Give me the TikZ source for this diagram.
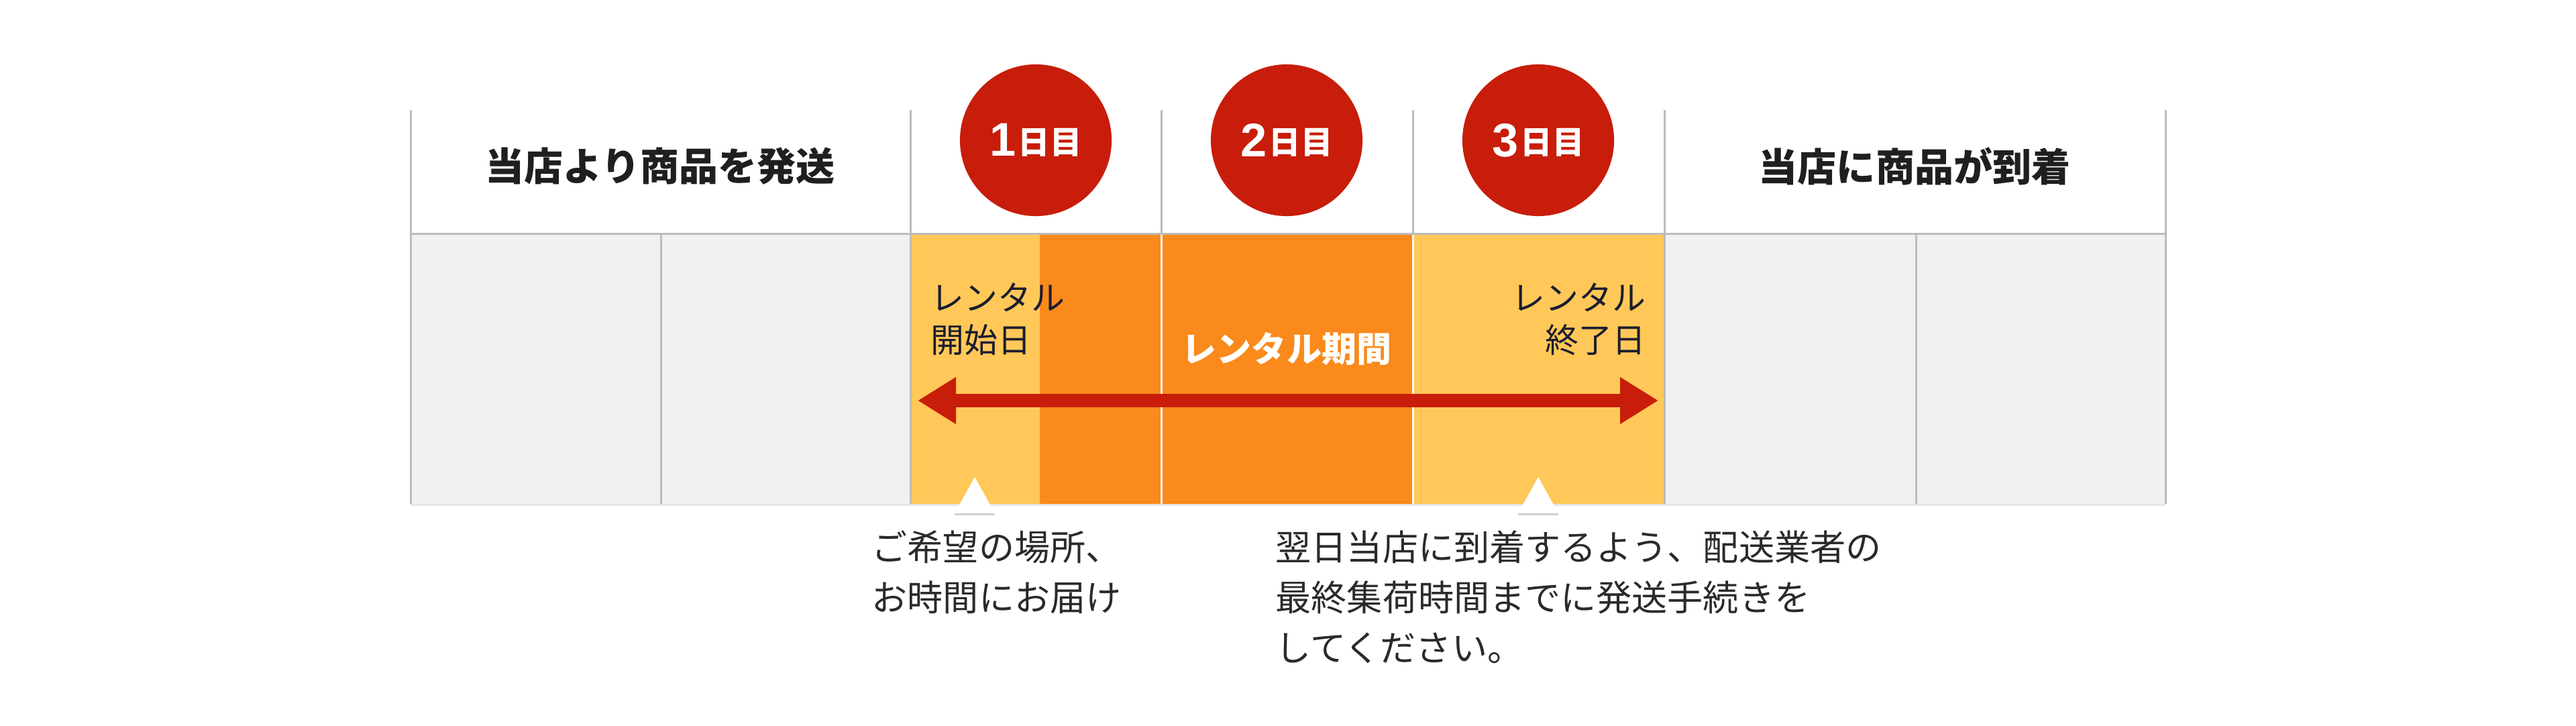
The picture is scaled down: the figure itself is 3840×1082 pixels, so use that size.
\documentclass[tikz,border=0pt]{standalone}
\usepackage{fontspec}
\newfontfamily\jp{Noto Sans CJK JP}
\newfontfamily\lib{Liberation Sans}
\usetikzlibrary{arrows.meta}
\definecolor{gridgrey}{HTML}{BBBBBB}
\definecolor{cellgrey}{HTML}{F1F1F1}
\definecolor{lightor}{HTML}{FFC858}
\definecolor{darkor}{HTML}{F98A1B}
\definecolor{rred}{HTML}{C71D0A}
\definecolor{navy}{HTML}{1C1C30}
\definecolor{txt}{HTML}{2A2A2A}
\tikzset{
  gridline/.style={draw=gridgrey, line width=0.03cm},
  headtxt/.style={inner sep=0, font=\jp\bfseries\fontsize{16.5pt}{20pt}\selectfont, text=black!88},
  lbl/.style={inner sep=0, font=\jp\fontsize{14.2pt}{17.9pt}\selectfont, text=navy},
  periodtxt/.style={inner sep=0, font=\jp\bfseries\fontsize{14.8pt}{18pt}\selectfont, text=white},
  daycircle/.style={circle, fill=rred, minimum size=2.26cm, inner sep=0, text=white},
  note/.style={inner sep=0, align=left, font=\jp\fontsize{15.1pt}{21.3pt}\selectfont, text=txt},
  marker/.style={fill=white},
  rarrow/.style={draw=rred, line width=0.2cm, {Triangle[length=0.57cm,width=0.66cm]}-{Triangle[length=0.57cm,width=0.66cm]}}
}
\newcommand{\daylabel}[1]{{\lib\bfseries\fontsize{20pt}{20pt}\selectfont #1}\hspace{1pt}\raisebox{1pt}{\jp\bfseries\fontsize{13.5pt}{13.5pt}\selectfont 日目}}
\begin{document}
\begin{tikzpicture}[x=0.01cm,y=-0.01cm]
\useasboundingbox (0,0) rectangle (3840,1082);
\fill[white] (0,0) rectangle (3840,1082);
% body fills
\fill[cellgrey] (612,348) rectangle (1357,751);
\fill[cellgrey] (2481,348) rectangle (3228,751);
\fill[lightor] (1357,349) rectangle (1550,751);
\fill[darkor] (1550,349) rectangle (2106,751);
\fill[lightor] (2106,349) rectangle (2481,751);
\draw[white, line width=0.03cm] (1731,349) -- (1731,751);
\draw[white, line width=0.03cm] (2106,349) -- (2106,751);
% grid lines
\foreach \x in {612,1357,1731,2106,2481,3228} \draw[gridline] (\x,164) -- (\x,348);
\foreach \x in {612,985,1357,2481,2856,3228} \draw[gridline] (\x,348) -- (\x,751);
\draw[gridline] (612,348) -- (3228,348);
\draw[draw=black!10, line width=0.03cm] (612,752) -- (3228,752);
% headers
\node[headtxt] (h1) at (984,248) {当店より商品を発送};
\node[headtxt] (h2) at (2854,248) {当店に商品が到着};
% day circles
\node[daycircle] (d1) at (1544,209) {\daylabel{1}};
\node[daycircle] (d2) at (1918,209) {\daylabel{2}};
\node[daycircle] (d3) at (2293,209) {\daylabel{3}};
% labels
\node[lbl, anchor=north west, align=left] (start) at (1387,421) {レンタル\\開始日};
\node[lbl, anchor=north east, align=right] (end) at (2454,421) {レンタル\\終了日};
\node[periodtxt] (period) at (1918,520) {レンタル期間};
% arrow
\coordinate (aL) at (1368,597);
\coordinate (aR) at (2472,597);
\draw[rarrow] (aL) -- (aR);
% markers
\coordinate (m1) at (1453,711);
\coordinate (m2) at (2293,711);
\fill[marker] (m1) -- ++(-30,54) -- ++(60,0) -- cycle;
\fill[marker] (m2) -- ++(-30,54) -- ++(60,0) -- cycle;
\draw[draw=black!18, line width=0.03cm] (1423,766) -- (1483,766);
\draw[draw=black!18, line width=0.03cm] (2263,766) -- (2323,766);
% notes
\node[note, anchor=north west] (n1) at (1299,790) {ご希望の場所、\\お時間にお届け};
\node[note, anchor=north west] (n2) at (1901,790) {翌日当店に到着するよう、配送業者の\\最終集荷時間までに発送手続きを\\してください。};
\end{tikzpicture}
\end{document}
